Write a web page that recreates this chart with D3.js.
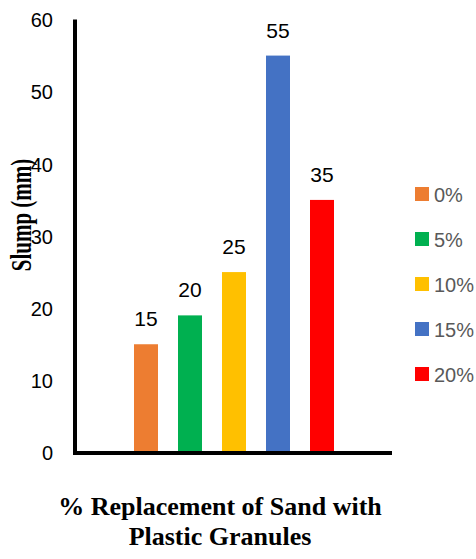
<!DOCTYPE html>
<html>
<head>
<meta charset="utf-8">
<script src="https://cdn.jsdelivr.net/npm/d3@7"></script>
<style>
html,body{margin:0;padding:0;background:#fff;}
svg{display:block;}
</style>
</head>
<body>
<svg id="chart" width="476" height="559"></svg>
<script>
const categories = ["0%", "5%", "10%", "15%", "20%"];
const slumpValues = [15, 19, 25, 55, 35];
const valueLabels = ["15", "20", "25", "55", "35"];
const barColors = ["#ED7D31", "#00B050", "#FFC000", "#4472C4", "#FF0000"];
const yTicks = [0, 10, 20, 30, 40, 50, 60];
const yTitle = "Slump (mm)";
const xTitleLines = ["% Replacement of Sand with", "Plastic Granules"];

const svg = d3.select("#chart");
const tickFont = "'Liberation Sans', Arial, sans-serif";
const serif = "'Liberation Serif', 'Times New Roman', serif";

const y = d3.scaleLinear().domain([0, 60]).range([452.5, 19.5]);
const x = d3.scaleBand().domain(categories).range([124, 344])
  .paddingInner(20/44).paddingOuter(10/44);

// y tick labels
const yAxis = d3.axisLeft(y).tickValues(yTicks).tickSize(0).tickPadding(0).tickFormat(d3.format("d"));
const yg = svg.append("g").attr("transform", "translate(53,0)").call(yAxis);
yg.select(".domain").remove();
yg.selectAll("text").attr("font-family", tickFont).attr("font-size", 20).attr("fill", "#000").attr("dy", "0.36em");

// bars
svg.append("g").selectAll("rect").data(categories).join("rect")
  .attr("x", d => x(d))
  .attr("width", x.bandwidth())
  .attr("y", (d, i) => y(slumpValues[i]))
  .attr("height", (d, i) => y(0) - y(slumpValues[i]))
  .attr("fill", (d, i) => barColors[i]);

// value labels
svg.append("g").selectAll("text").data(categories).join("text")
  .attr("x", d => x(d) + x.bandwidth() / 2)
  .attr("y", (d, i) => y(slumpValues[i]) - 18)
  .attr("text-anchor", "middle")
  .attr("font-family", tickFont).attr("font-size", 21).attr("fill", "#000")
  .text((d, i) => valueLabels[i]);

// axes lines
svg.append("line").attr("x1", 75).attr("x2", 75).attr("y1", y(60)).attr("y2", 455)
  .attr("stroke", "#000").attr("stroke-width", 4);
svg.append("line").attr("x1", 73).attr("x2", 392).attr("y1", 453).attr("y2", 453)
  .attr("stroke", "#000").attr("stroke-width", 4);

// legend
const lg = svg.append("g").selectAll("g").data(categories).join("g")
  .attr("transform", (d, i) => `translate(415,${187 + i * 45})`);
lg.append("rect").attr("width", 14).attr("height", 14).attr("fill", (d, i) => barColors[i]);
lg.append("text").attr("x", 19).attr("y", 14.5)
  .attr("font-family", tickFont).attr("font-size", 20).attr("fill", "#595959")
  .text(d => d);

// y title
svg.append("text")
  .attr("transform", "translate(31,215) scale(1.45,1) rotate(-90)")
  .attr("text-anchor", "middle")
  .attr("font-family", serif).attr("font-weight", "bold").attr("font-size", 21)
  .attr("fill", "#000")
  .text(yTitle);

// x title
svg.append("g").selectAll("text").data(xTitleLines).join("text")
  .attr("x", 220).attr("y", (d, i) => 515 + i * 30)
  .attr("text-anchor", "middle")
  .attr("font-family", serif).attr("font-weight", "bold").attr("font-size", 26)
  .attr("fill", "#000")
  .text(d => d);
</script>
</body>
</html>
